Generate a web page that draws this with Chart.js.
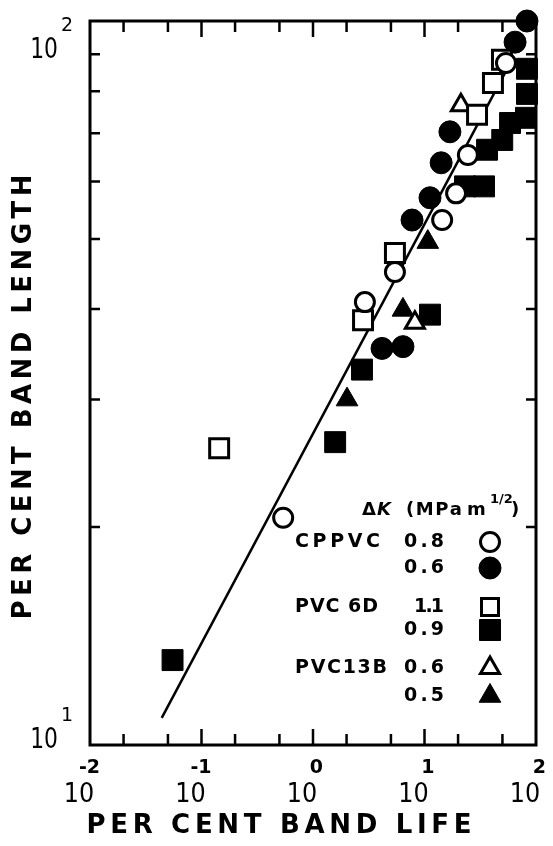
<!DOCTYPE html>
<html>
<head>
<meta charset="utf-8">
<script src="https://cdn.jsdelivr.net/npm/chart.js@4.4.1/dist/chart.umd.min.js"></script>
<style>
  html, body { margin: 0; padding: 0; background: #fff; }
  canvas { display: block; }
</style>
</head>
<body>
<canvas id="chart" width="553" height="846"></canvas>
<script>
// per cent band life (x) vs per cent band length (y)
const cppvc08Life = [0.54, 2.92, 5.43, 14.4, 19.2, 24.5, 53.8];
const cppvc08Len  = [20.6, 40.9, 45.0, 53.1, 57.8, 65.3, 87.5];
const cppvc06Life = [4.16, 6.41, 7.73, 11.2, 14.1, 16.9, 64.9, 83];
const cppvc06Len  = [35.3, 35.5, 53.1, 57.0, 63.7, 70.3, 93.5, 100];
const pvc6d11Life = [0.144, 2.81, 5.43, 29.6, 41.1, 49.5];
const pvc6d11Len  = [25.7, 38.6, 47.8, 74.2, 82.1, 88.4];
const pvc6d09Life = [0.055, 1.58, 2.75, 11.2, 23.1, 34.2, 36.4, 49.8, 58.5, 81.3, 83, 83];
const pvc6d09Len  = [13.1, 26.2, 33.0, 39.3, 59.1, 59.1, 66.4, 68.5, 72.3, 73.5, 79.3, 85.9];
const pvc13b06Life = [8.2, 21.2];
const pvc13b06Len  = [38.3, 76.5];
const pvc13b05Life = [2.02, 6.41, 10.7];
const pvc13b05Len  = [30.0, 39.9, 49.5];
// fitted line
const fitLife = [0.044, 60];
const fitLen  = [10.9, 88];

// axes
const xTickExps = [-2, -1, 0, 1, 2];
const xMajorTicks = [0.1, 1, 10];
const xMinorTicks = [0.02, 0.05, 0.2, 0.5, 2, 5, 20, 50];
const yTickExps = [1, 2];
const yMinorTicks = [20, 30, 40, 50, 60, 70, 80, 90];

const FONT = '"DejaVu Sans", sans-serif';

function pts(xs, ys) {
  return xs.map((v, i) => ({ x: v, y: ys[i] }));
}

// draw a string stretched to a given width by letter spacing
function spaced(ctx, text, x, y, width, align) {
  const chars = [...text];
  const w = chars.map(c => ctx.measureText(c).width);
  const natural = w.reduce((a, b) => a + b, 0);
  const gap = chars.length > 1 ? (width - natural) / (chars.length - 1) : 0;
  let cx = align === 'center' ? x - width / 2 : align === 'right' ? x - width : x;
  ctx.textAlign = 'left';
  chars.forEach((c, i) => { ctx.fillText(c, cx, y); cx += w[i] + gap; });
}

// draw text condensed horizontally
function narrow(ctx, text, x, y, sx, align) {
  ctx.save();
  ctx.translate(x, y);
  ctx.scale(sx, 1);
  ctx.textAlign = align;
  ctx.fillText(text, 0, 0);
  ctx.restore();
}

function marker(ctx, style, filled, x, y, r) {
  ctx.save();
  ctx.beginPath();
  if (style === 'circle') {
    ctx.arc(x, y, r, 0, Math.PI * 2);
  } else if (style === 'rect') {
    ctx.rect(x - r, y - r, 2 * r, 2 * r);
  } else {
    ctx.moveTo(x, y - r);
    ctx.lineTo(x + r * 0.866, y + r * 0.5);
    ctx.lineTo(x - r * 0.866, y + r * 0.5);
    ctx.closePath();
  }
  ctx.fillStyle = filled ? '#000' : '#fff';
  ctx.fill();
  ctx.lineWidth = filled ? 1 : 3;
  ctx.strokeStyle = '#000';
  ctx.stroke();
  ctx.restore();
}

const frame = {
  id: 'frame',
  beforeDatasetsDraw(chart) {
    const { ctx, chartArea: a, scales: { x, y } } = chart;
    ctx.save();
    ctx.strokeStyle = '#000';
    ctx.lineWidth = 3;
    ctx.strokeRect(a.left, a.top, a.right - a.left, a.bottom - a.top);
    ctx.lineWidth = 2.5;
    ctx.beginPath();
    xMajorTicks.concat(xMinorTicks).forEach(v => {
      const px = x.getPixelForValue(v);
      const len = xMajorTicks.includes(v) ? 16 : 11;
      ctx.moveTo(px, a.bottom); ctx.lineTo(px, a.bottom - len);
      ctx.moveTo(px, a.top); ctx.lineTo(px, a.top + len);
    });
    yMinorTicks.forEach(v => {
      const py = y.getPixelForValue(v);
      ctx.moveTo(a.left, py); ctx.lineTo(a.left + 10, py);
      ctx.moveTo(a.right, py); ctx.lineTo(a.right - 10, py);
    });
    ctx.stroke();
    ctx.restore();
  },
  afterDraw(chart) {
    const { ctx, scales: { x, y } } = chart;
    ctx.save();
    ctx.fillStyle = '#000';
    ctx.textBaseline = 'middle';

    // x tick labels: exponent above the "10"
    xTickExps.forEach(e => {
      const px = x.getPixelForValue(Math.pow(10, e));
      ctx.font = '26px ' + FONT;
      narrow(ctx, '10', px - 11, 795, 0.92, 'center');
      ctx.font = 'bold 19px ' + FONT;
      ctx.textAlign = 'right';
      ctx.fillText(String(e), px + 10, 768);
    });

    // y tick labels
    yTickExps.forEach(e => {
      const py = y.getPixelForValue(Math.pow(10, e));
      const dy = e === 2 ? 30 : -4;
      ctx.font = '28px ' + FONT;
      narrow(ctx, '10', 58, py + dy, 0.78, 'right');
      ctx.font = '19px ' + FONT;
      ctx.textAlign = 'left';
      ctx.fillText(String(e), 61, py + dy - 25);
    });

    // axis titles
    ctx.font = 'bold 26px ' + FONT;
    spaced(ctx, 'PER CENT BAND LIFE', 279, 826, 385, 'center');
    ctx.save();
    ctx.translate(24, 397);
    ctx.rotate(-Math.PI / 2);
    spaced(ctx, 'PER CENT BAND LENGTH', 0, 0, 445, 'center');
    ctx.restore();

    // legend
    ctx.textBaseline = 'alphabetic';
    ctx.font = 'bold 18px ' + FONT;
    ctx.textAlign = 'left';
    ctx.fillText('Δ', 362, 515);
    ctx.font = 'italic bold 18px ' + FONT;
    ctx.fillText('K', 377, 515);
    ctx.font = 'bold 18px ' + FONT;
    spaced(ctx, '(MPa', 406, 515, 56, 'left');
    ctx.fillText('m', 467, 515);
    ctx.font = 'bold 13px ' + FONT;
    ctx.fillText('1/2', 490, 503);
    ctx.font = 'bold 18px ' + FONT;
    ctx.fillText(')', 511, 515);

    ctx.textBaseline = 'middle';
    ctx.font = 'bold 19px ' + FONT;
    spaced(ctx, 'CPPVC', 295, 542, 85, 'left');
    spaced(ctx, 'PVC 6D', 295, 607, 83, 'left');
    spaced(ctx, 'PVC13B', 295, 668, 92, 'left');
    const rows = [
      ['0.8', 542, 'circle', false, 9.5],
      ['0.6', 568, 'circle', true, 11],
      ['1.1', 607, 'rect', false, 8.5],
      ['0.9', 630, 'rect', true, 10.5],
      ['0.6', 668, 'tri', false, 11],
      ['0.5', 696, 'tri', true, 12.5]
    ];
    rows.forEach(r => {
      ctx.fillStyle = '#000';
      spaced(ctx, r[0], 444, r[1], r[0] === '1.1' ? 30 : 40, 'right');
      marker(ctx, r[2], r[3], 490, r[1], r[4]);
    });
    ctx.restore();
  }
};

const openPt = { pointBackgroundColor: '#fff', pointBorderColor: '#000', pointBorderWidth: 3, order: 1, clip: false };
const filledPt = { pointBackgroundColor: '#000', pointBorderColor: '#000', pointBorderWidth: 1, order: 2, clip: false };

new Chart(document.getElementById('chart'), {
  type: 'scatter',
  data: {
    datasets: [
      { label: 'CPPVC 0.8', data: pts(cppvc08Life, cppvc08Len), pointStyle: 'circle', pointRadius: 9.5, ...openPt },
      { label: 'PVC 6D 1.1', data: pts(pvc6d11Life, pvc6d11Len), pointStyle: 'rect', pointRadius: 13.4, ...openPt },
      { label: 'PVC13B 0.6', data: pts(pvc13b06Life, pvc13b06Len), pointStyle: 'triangle', pointRadius: 11, ...openPt },
      { label: 'CPPVC 0.6', data: pts(cppvc06Life, cppvc06Len), pointStyle: 'circle', pointRadius: 11, ...filledPt },
      { label: 'PVC 6D 0.9', data: pts(pvc6d09Life, pvc6d09Len), pointStyle: 'rect', pointRadius: 14.8, ...filledPt },
      { label: 'PVC13B 0.5', data: pts(pvc13b05Life, pvc13b05Len), pointStyle: 'triangle', pointRadius: 12.5, ...filledPt },
      { label: 'fit', data: pts(fitLife, fitLen), showLine: true, pointRadius: 0, borderColor: '#000', borderWidth: 2.5, order: 3, clip: false }
    ]
  },
  options: {
    responsive: false,
    devicePixelRatio: 1,
    animation: false,
    layout: { padding: { left: 90, right: 17, top: 21, bottom: 101 } },
    plugins: { legend: { display: false }, tooltip: { enabled: false } },
    scales: {
      x: { type: 'logarithmic', min: 0.01, max: 100, display: false },
      y: { type: 'logarithmic', min: 10, max: 100, display: false }
    }
  },
  plugins: [frame]
});
</script>
</body>
</html>
